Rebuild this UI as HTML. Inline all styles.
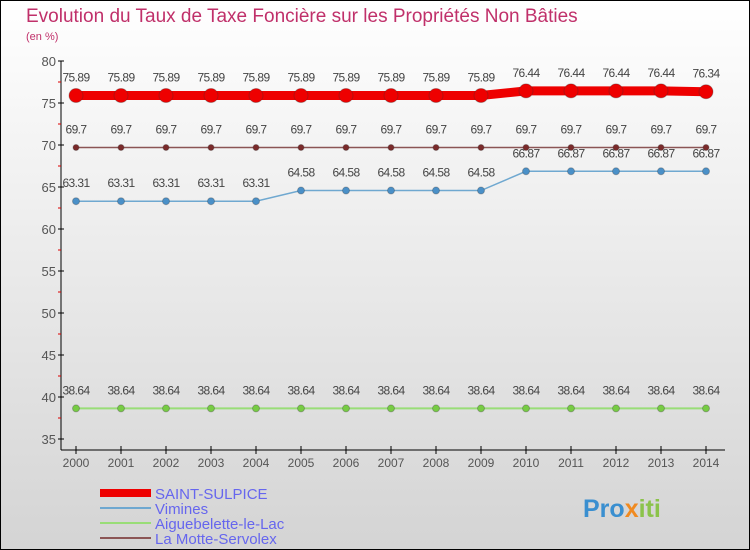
<!DOCTYPE html>
<html><head><meta charset="utf-8"><style>
body{margin:0}
svg{display:block;font-family:"Liberation Sans","DejaVu Sans",sans-serif}
</style></head><body>
<svg id="c" width="750" height="550">
<defs><linearGradient id="bg" x1="0" y1="0" x2="0" y2="1"><stop offset="0" stop-color="#ffffff"/><stop offset="1" stop-color="#d4d4d4"/></linearGradient></defs>
<rect x="0.5" y="0.5" width="749" height="549" fill="url(#bg)" stroke="#000"/>
<text x="26" y="22" font-size="19" fill="#c0306a">Evolution du Taux de Taxe Foncière sur les Propriétés Non Bâties</text>
<text x="26" y="40" font-size="11" fill="#c0306a">(en %)</text>
<g id="axes"></g><g id="series"></g>
<g>
<rect x="100" y="489" width="51" height="8" fill="#e00"/>
<text x="155" y="499" font-size="15" fill="#6666ee">SAINT-SULPICE</text>
<rect x="100" y="507" width="51" height="2" fill="#6fa8d0"/>
<text x="155" y="514" font-size="15" fill="#6666ee">Vimines</text>
<rect x="100" y="522" width="51" height="2" fill="#99dd77"/>
<text x="155" y="529" font-size="15" fill="#6666ee">Aiguebelette-le-Lac</text>
<rect x="100" y="537" width="51" height="2" fill="#8b5555"/>
<text x="155" y="544" font-size="15" fill="#6666ee">La Motte-Servolex</text>
</g>
<text x="583" y="517" font-size="25" font-weight="bold" fill="#3a8fd0">Pro<tspan fill="#f08a20">x</tspan><tspan fill="#8bc34a">iti</tspan></text>
</svg>
<script>
const years=[2000,2001,2002,2003,2004,2005,2006,2007,2008,2009,2010,2011,2012,2013,2014];
const yTicks=[35,40,45,50,55,60,65,70,75,80];
const saintSulpice=[75.89,75.89,75.89,75.89,75.89,75.89,75.89,75.89,75.89,75.89,76.44,76.44,76.44,76.44,76.34];
const vimines=[63.31,63.31,63.31,63.31,63.31,64.58,64.58,64.58,64.58,64.58,66.87,66.87,66.87,66.87,66.87];
const aiguebelette=[38.64,38.64,38.64,38.64,38.64,38.64,38.64,38.64,38.64,38.64,38.64,38.64,38.64,38.64,38.64];
const laMotte=[69.7,69.7,69.7,69.7,69.7,69.7,69.7,69.7,69.7,69.7,69.7,69.7,69.7,69.7,69.7];
const NS="http://www.w3.org/2000/svg";
const xS=i=>76+i*45;
const yS=v=>61+(80-v)*8.4;
function mk(t,a,p){const e=document.createElementNS(NS,t);for(const k in a)e.setAttribute(k,a[k]);p.appendChild(e);return e;}
const ax=document.getElementById('axes');
let e=mk('line',{x1:61,y1:61,x2:61,y2:450,stroke:'#000'},ax);


e=mk('line',{x1:61,y1:450,x2:725,y2:450,stroke:'#000'},ax);


yTicks.forEach(v=>{
  mk('line',{x1:58,x2:64,y1:yS(v),y2:yS(v),stroke:'#000'},ax);
  if(v<80)mk('line',{x1:58,x2:61,y1:yS(v+2.5),y2:yS(v+2.5),stroke:'#d00'},ax);
  const t=mk('text',{x:56,y:yS(v)+5,'font-size':13,'text-anchor':'end',fill:'#555'},ax);t.textContent=v;
  
  
});
years.forEach((y,i)=>{
  mk('line',{x1:xS(i),x2:xS(i),y1:446,y2:454,stroke:'#000'},ax);
  const t=mk('text',{x:xS(i),y:467,'font-size':12,'text-anchor':'middle',fill:'#555'},ax);t.textContent=y;
  
  
});
const sg=document.getElementById('series');
function series(data,name,color,w,r,dot){
  const g=mk('g',{},sg);
  
  
  const p=mk('polyline',{points:data.map((v,i)=>xS(i)+','+yS(v)).join(' '),fill:'none',stroke:color,'stroke-width':w},g);
  
  
  data.forEach((v,i)=>{
    const c=mk('circle',{cx:xS(i),cy:yS(v),r:r,fill:dot,stroke:'#333','stroke-opacity':0.3},g);
    
    
    const t=mk('text',{x:xS(i),y:yS(v)-14,'font-size':12,'text-anchor':'middle',fill:'#444','letter-spacing':'-0.6'},g);
    t.textContent=v;
    
    
  });
}
series(aiguebelette,'aiguebelette','#99dd77',2,3.5,'#77cc44');
series(laMotte,'la-motte','#8b5555',1.5,3,'#7a2a2a');
series(vimines,'vimines','#6fa8d0',1.5,3.5,'#4a90c8');
series(saintSulpice,'saint-sulpice','#e00',9,7,'#e00');
</script>
</body></html>
